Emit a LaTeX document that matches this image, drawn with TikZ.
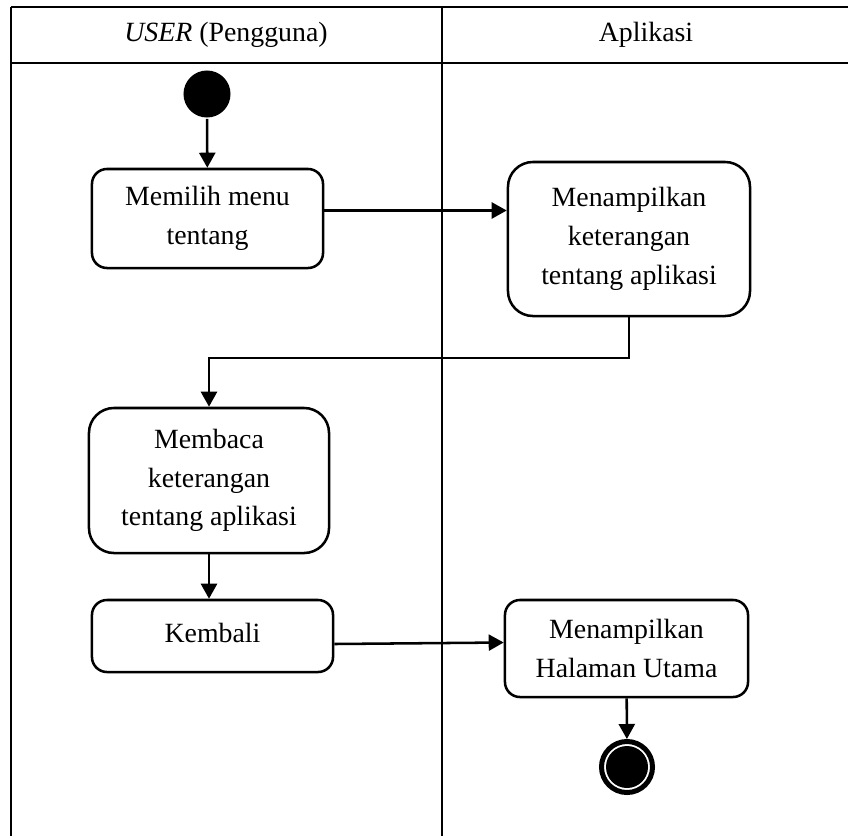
\documentclass[tikz,border=0pt]{standalone}
\usepackage{fontspec}
\setmainfont{Liberation Serif}
\usetikzlibrary{arrows.meta}

\begin{document}
\begin{tikzpicture}[x=0.025cm,y=-0.025cm,>={Triangle[length=0.375cm,width=0.4cm]},line width=1.8pt,
every node/.style={font=\fontsize{19.8}{27.5}\selectfont},
act/.style={draw,rectangle,align=center,inner sep=0pt,rounded corners=0.375cm},
bigact/.style={act,rounded corners=0.625cm},
startdot/.style={circle,fill,inner sep=0pt,minimum size=1.175cm},
endring/.style={circle,draw,line width=0.125cm,inner sep=0pt,minimum size=1.275cm}]
\useasboundingbox(0,0)rectangle(848,836);
% lanes
\draw(11,7)--(848,7);
\draw(11,63)--(848,63);
\draw(11,7)--(11,836);
\draw(442,7)--(442,836);
\node(laneuser) at (226,35){\textit{USER} (Pengguna)};
\node(laneapp) at (646,35){Aplikasi};
% activities
\node[startdot](start) at (207,94){};
\node[act,minimum width=5.775cm,minimum height=2.475cm](box1) at (207.5,218.5){Memilih menu\\tentang};
\node[bigact,minimum width=6.05cm,minimum height=3.85cm](box2) at (629,239){Menampilkan\\keterangan\\tentang aplikasi};
\node[bigact,minimum width=6cm,minimum height=3.625cm](box3) at (209,480.5){Membaca\\keterangan\\tentang aplikasi};
\node[act,minimum width=6.025cm,minimum height=1.8cm](box4) at (212.5,636){\raisebox{0.15cm}{Kembali}};
\node[act,minimum width=6.075cm,minimum height=2.425cm](box5) at (626.5,648.5){Menampilkan\\Halaman Utama};
\node[endring](finish) at (627,767){};
\fill(finish.center)circle(0.525cm);
% flow
\coordinate(m1) at ([yshift=0.2cm]box1.east);
\coordinate(bend) at (209,358);
\draw[->](start)--(box1);
\draw[->](m1)--(m1-|box2.west);
\draw[->](box2.south)|-(bend)--(box3.north);
\draw[->](box3.south)--(box3.south|-box4.north);
\draw[->]([yshift=-0.2cm]box4.east)--([yshift=0.15cm]box5.west);
\draw[->](box5)--(finish);
\end{tikzpicture}
\end{document}
